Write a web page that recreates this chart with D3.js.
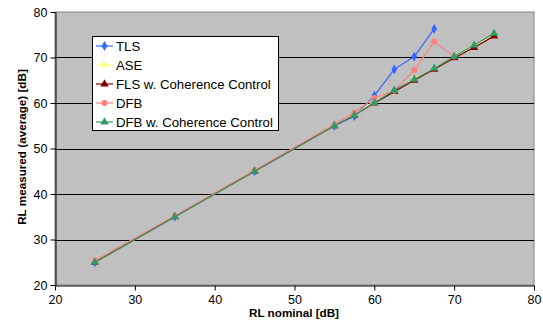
<!DOCTYPE html>
<html><head><meta charset="utf-8">
<script src="https://cdn.jsdelivr.net/npm/d3@7"></script>
<style>body{margin:0;background:#fff}svg{display:block;font-family:"Liberation Sans",Arial,sans-serif}</style>
</head><body><svg id="c" width="543" height="330"></svg>
<script>
const xNominal = [25, 35, 45, 55, 57.5, 60, 62.5, 65, 67.5, 70, 72.5, 75];
const tls = [25.0, 35.0, 45.0, 55.0, 57.1, 61.6, 67.4, 70.2, 76.3];
const ase = [25.0, 35.0, 45.0, 55.0, 57.4, 60.4, 62.6, 65.4, 67.5, 70.1, 72.6, 75.0];
const flsCC = [25.0, 35.0, 45.0, 55.0, 57.3, 60.0, 62.5, 65.0, 67.4, 69.9, 72.2, 74.7];
const dfb = [25.4, 35.2, 45.2, 55.3, 57.9, 61.1, 62.7, 67.2, 73.5, 70.2];
const dfbCC = [25.0, 35.0, 45.0, 55.0, 57.3, 60.1, 62.8, 65.2, 67.6, 70.2, 72.7, 75.3];
const seriesNames = ["TLS", "ASE", "FLS w. Coherence Control", "DFB", "DFB w. Coherence Control"];
const xTicks = [20, 30, 40, 50, 60, 70, 80];
const yTicks = [20, 30, 40, 50, 60, 70, 80];

const series = [
  {name: seriesNames[0], vals: tls, color: "#3366ff", marker: "diamond"},
  {name: seriesNames[1], vals: ase, color: "#ffff80", marker: "square"},
  {name: seriesNames[2], vals: flsCC, color: "#800000", marker: "triangle"},
  {name: seriesNames[3], vals: dfb, color: "#ff8080", marker: "circle"},
  {name: seriesNames[4], vals: dfbCC, color: "#339966", marker: "triangle"}
];

const svg = d3.select("#c");
const L = 55, R = 534, T = 12, B = 285;
const x = d3.scaleLinear().domain([20, 80]).range([L, R]);
const y = d3.scaleLinear().domain([20, 80]).range([B, T]);

svg.append("rect").attr("x", L).attr("y", T).attr("width", R - L).attr("height", B - T)
  .attr("fill", "#c0c0c0").attr("stroke", "#808080").attr("stroke-width", 1);

svg.append("g").selectAll("line").data(yTicks.filter(d => d > 20 && d < 80)).join("line")
  .attr("x1", L).attr("x2", R).attr("y1", d => Math.round(y(d)) + 0.5).attr("y2", d => Math.round(y(d)) + 0.5)
  .attr("stroke", "#000").attr("stroke-width", 1);

const xAxis = svg.append("g").attr("transform", `translate(0,${B + 0.5})`)
  .call(d3.axisBottom(x).tickValues(xTicks).tickSize(5).tickPadding(5).tickSizeOuter(0));
const yAxis = svg.append("g").attr("transform", `translate(${L + 0.5},0)`)
  .call(d3.axisLeft(y).tickValues(yTicks).tickSize(5).tickPadding(3).tickSizeOuter(0));
[xAxis, yAxis].forEach(a => {
  a.select(".domain").attr("stroke", "#000");
  a.selectAll(".tick line").attr("stroke", "#000");
  a.selectAll("text").attr("font-size", 12.5).attr("fill", "#000")
    .attr("font-family", "'Liberation Sans',Arial,sans-serif");
});

const sym = {
  diamond: d3.symbol(d3.symbolDiamond, 28),
  square: d3.symbol(d3.symbolSquare, 25),
  triangle: d3.symbol(d3.symbolTriangle, 30),
  circle: d3.symbol(d3.symbolCircle, 28)
};

const line = d3.line().x(d => x(d[0])).y(d => y(d[1]));
series.forEach(s => {
  const pts = s.vals.map((v, i) => [xNominal[i], v]);
  const g = svg.append("g");
  g.append("path").attr("d", line(pts)).attr("fill", "none").attr("stroke", s.color).attr("stroke-width", 1.2);
  g.selectAll("path.m").data(pts).join("path").attr("class", "m")
    .attr("d", sym[s.marker]()).attr("transform", d => `translate(${x(d[0])},${y(d[1])})`)
    .attr("fill", s.color);
});

const lg = svg.append("g");
lg.append("rect").attr("x", 92.5).attr("y", 36.5).attr("width", 186).attr("height", 94)
  .attr("fill", "#fff").attr("stroke", "#000").attr("stroke-width", 1);
series.forEach((s, i) => {
  const yy = 46 + i * 19;
  lg.append("line").attr("x1", 96).attr("x2", 113).attr("y1", yy).attr("y2", yy)
    .attr("stroke", s.color).attr("stroke-width", 1.2);
  lg.append("path").attr("d", sym[s.marker]()).attr("transform", `translate(104.5,${yy})`).attr("fill", s.color);
  lg.append("text").attr("x", 116).attr("y", yy + 5).attr("font-size", 13.2).text(s.name);
});

svg.append("text").attr("x", 294).attr("y", 317).attr("text-anchor", "middle")
  .attr("font-size", 11.7).attr("font-weight", "bold").text("RL nominal [dB]");
svg.append("text").attr("transform", "translate(26,147) rotate(-90)").attr("text-anchor", "middle")
  .attr("font-size", 11.7).attr("font-weight", "bold").text("RL measured (average) [dB]");
</script></body></html>
